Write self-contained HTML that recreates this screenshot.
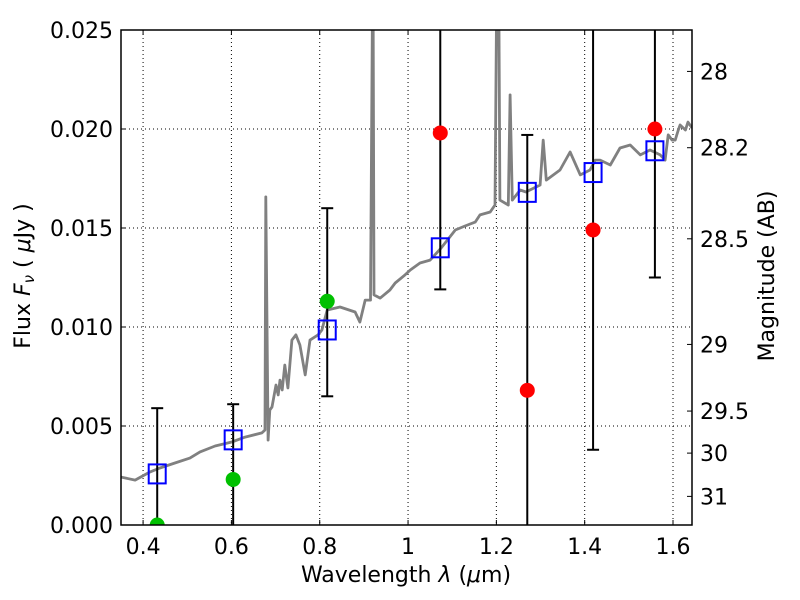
<!DOCTYPE html>
<html><head><meta charset="utf-8"><style>
html,body{margin:0;padding:0;background:#fff;width:800px;height:600px;overflow:hidden;}
#wrap{position:relative;width:800px;height:600px;overflow:hidden;}
svg{display:block;position:absolute;left:0;top:0;}
svg text{font-family:"DejaVu Sans","Liberation Sans",sans-serif;font-size:22px;fill:#000;}
</style></head><body>
<div id="wrap">
<svg id="c" width="800" height="600" viewBox="0 0 800 600">
<text x="406" y="582" text-anchor="middle">Wavelength  <tspan font-style="italic">λ</tspan> (<tspan font-style="italic">μ</tspan>m)</text>
<text transform="translate(30,276) rotate(-90)" text-anchor="middle">Flux  <tspan font-style="italic">F</tspan><tspan font-style="italic" font-size="15" dy="4">ν</tspan><tspan dy="-4">  ( </tspan><tspan font-style="italic">μ</tspan>Jy )</text>
<text transform="translate(774,276) rotate(-90)" text-anchor="middle">Magnitude (AB)</text>
</svg>
</div>
<script>
const specLam=[.35,.382,.416,.438,.472,.506,.529,.563,.601,.631,.669,.676,.678,.683,.687,.692,.701,.706,.710,.715,.721,.728,.737,.746,.755,.767,.778,.796,.805,.817,.846,.880,.891,.903,.915,.919,.921,.923,.937,.959,.971,.993,1.005,1.027,1.050,1.073,1.084,1.107,1.129,1.152,1.163,1.186,1.197,1.200,1.202,1.206,1.208,1.227,1.231,1.236,1.254,1.267,1.276,1.299,1.306,1.313,1.344,1.367,1.390,1.412,1.424,1.435,1.458,1.480,1.503,1.526,1.548,1.571,1.582,1.589,1.598,1.605,1.612,1.616,1.628,1.634,1.643];
const specFlux=[.00242,.00227,.00268,.00288,.00313,.00338,.00369,.00399,.00419,.00444,.00465,.0048,.01657,.00429,.00581,.00596,.00707,.00657,.00732,.00682,.00808,.00692,.00934,.0096,.00909,.00758,.00934,.0096,.00985,.01086,.01101,.01076,.01025,.01136,.01136,.025,.025,.01162,.01146,.01187,.01222,.01263,.01288,.01323,.01338,.01394,.01424,.0149,.0151,.0153,.01566,.01581,.01616,.025,.025,.025,.01641,.01616,.02172,.01641,.01692,.01682,.01692,.01717,.01944,.01742,.01793,.01884,.01768,.01793,.01843,.01843,.01818,.01904,.01919,.01869,.01894,.01869,.01843,.0197,.01944,.01944,.01995,.0202,.01995,.02035,.02005];
const modelLam=[.432,.604,.817,1.073,1.27,1.419,1.559];
const modelFlux=[.00258,.0043,.00985,.0140,.0168,.0178,.0189];
const greenLam=[.432,.604,.817];
const greenFlux=[0,.0023,.0113];
const greenLo=[-.006,-.0016,.0065];
const greenHi=[.0059,.0061,.0160];
const redLam=[1.073,1.27,1.419,1.559];
const redFlux=[.0198,.0068,.0149,.0200];
const redLo=[.0119,-.0061,.0038,.0125];
const redHi=[.0277,.0197,.026,.0275];
const xTicks=[0.4,0.6,0.8,1.0,1.2,1.4,1.6];
const xTickLabels=["0.4","0.6","0.8","1","1.2","1.4","1.6"];
const yTicks=[0,.005,.01,.015,.02,.025];
const yTickLabels=["0.000","0.005","0.010","0.015","0.020","0.025"];
const magTicks=[28,28.2,28.5,29,29.5,30,31];
const magTickLabels=["28","28.2","28.5","29","29.5","30","31"];

const L=121,R=692,T=30,B=525,X0=.35,X1=1.643,Y0=0,Y1=.025;
const sx=v=>L+(v-X0)/(X1-X0)*(R-L);
const sy=v=>B-(v-Y0)/(Y1-Y0)*(B-T);
const clampY=v=>Math.max(Y0,Math.min(Y1,v));
const NS='http://www.w3.org/2000/svg';
const svg=document.getElementById('c');
function mk(tag,attrs,parent){const e=document.createElementNS(NS,tag);for(const k in attrs)e.setAttribute(k,attrs[k]);(parent||svg).appendChild(e);return e;}
const defs=mk('defs',{});const cp=mk('clipPath',{id:'clip'},defs);mk('rect',{x:L,y:T,width:R-L,height:B-T},cp);

xTicks.forEach((t,i)=>{
 const g=mk('line',{x1:sx(t),x2:sx(t),y1:T,y2:B,stroke:'#000','stroke-dasharray':'1,3','stroke-width':1});
 
 
 mk('line',{x1:sx(t),x2:sx(t),y1:B,y2:B-5,stroke:'#000'});
 mk('line',{x1:sx(t),x2:sx(t),y1:T,y2:T+5,stroke:'#000'});
 const tx=mk('text',{x:sx(t),y:B+29,'text-anchor':'middle'});tx.textContent=xTickLabels[i];
 
 
});
yTicks.forEach((t,i)=>{
 const g=mk('line',{x1:L,x2:R,y1:sy(t),y2:sy(t),stroke:'#000','stroke-dasharray':'1,3','stroke-width':1});
 
 
 mk('line',{x1:L,x2:L+5,y1:sy(t),y2:sy(t),stroke:'#000'});
 const tx=mk('text',{x:L-8,y:sy(t)+8,'text-anchor':'end'});tx.textContent=yTickLabels[i];
 
 
});
magTicks.forEach((m,i)=>{
 const f=Math.pow(10,(23.9-m)/2.5);
 mk('line',{x1:R,x2:R-5,y1:sy(f),y2:sy(f),stroke:'#000'});
 const tx=mk('text',{x:R+8,y:sy(f)+8});tx.textContent=magTickLabels[i];
 
 
});
const clipG=mk('g',{'clip-path':'url(#clip)'});
const pts=specLam.map((l,i)=>sx(l).toFixed(1)+','+sy(clampY(specFlux[i])).toFixed(1)).join(' ');
const sp=mk('polyline',{points:pts,fill:'none',stroke:'#808080','stroke-width':2.8,'stroke-linejoin':'round'},clipG);


function errs(lam,lo,hi){lam.forEach((l,i)=>{
 const x=sx(l);
 const e=mk('line',{x1:x,x2:x,y1:sy(clampY(lo[i])),y2:sy(clampY(hi[i])),stroke:'#000','stroke-width':2},clipG);
 
 
 if(lo[i]>=Y0) mk('line',{x1:x-6,x2:x+6,y1:sy(lo[i]),y2:sy(lo[i]),stroke:'#000','stroke-width':2},clipG);
 if(hi[i]<=Y1) mk('line',{x1:x-6,x2:x+6,y1:sy(hi[i]),y2:sy(hi[i]),stroke:'#000','stroke-width':2},clipG);
});}
errs(greenLam,greenLo,greenHi);errs(redLam,redLo,redHi);
greenLam.forEach((l,i)=>{const c=mk('circle',{cx:sx(l),cy:sy(greenFlux[i]),r:7.5,fill:'#00c000'},clipG);
 
 });
redLam.forEach((l,i)=>{const c=mk('circle',{cx:sx(l),cy:sy(redFlux[i]),r:7.5,fill:'#ff0000'},clipG);
 
 });
modelLam.forEach((l,i)=>{const r=mk('rect',{x:sx(l)-8.5,y:sy(modelFlux[i])-9.5,width:17,height:19,fill:'none',stroke:'#0000ff','stroke-width':2},clipG);
 
 });
const fr=mk('rect',{x:L,y:T,width:R-L,height:B-T,fill:'none',stroke:'#000','stroke-width':1.5});


</script>
</body></html>
